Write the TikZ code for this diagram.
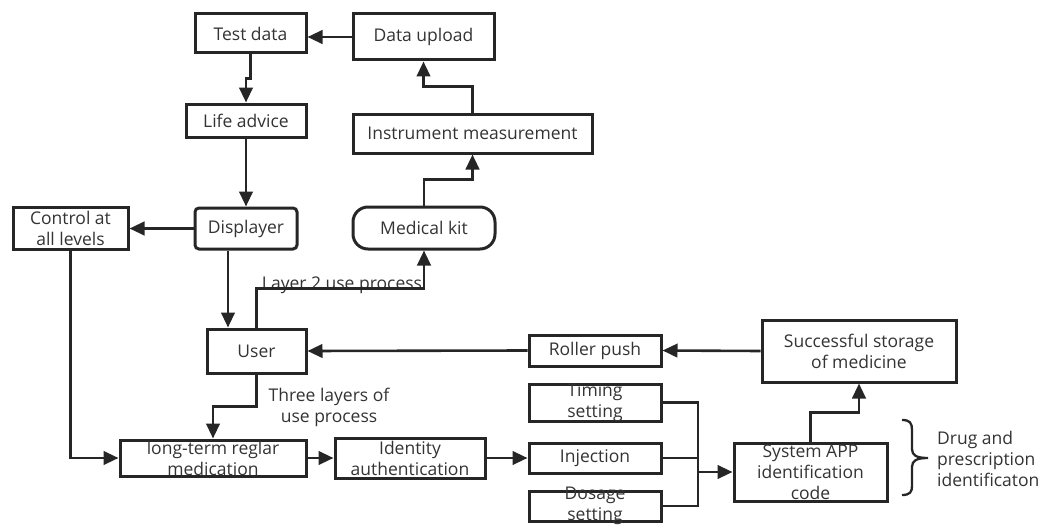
\documentclass[tikz,border=0pt]{standalone}
\usepackage{fontspec}
\setmainfont{Open Sans}
\usetikzlibrary{arrows.meta}
\definecolor{ln}{HTML}{262626}
\definecolor{tx}{HTML}{333333}
\tikzset{
  txt/.style={text=tx, font=\fontsize{17.5}{21}\selectfont, align=center, inner sep=0pt},
  box/.style={draw=ln, line width=3pt, inner sep=0pt, rectangle},
  conn/.style={draw=ln, line width=2.6pt, -{Triangle[length=15pt,width=13.5pt]}},
  wire/.style={draw=ln, line width=2.6pt},
}
\begin{document}
\begin{tikzpicture}[x=1pt,y=-1pt]
\useasboundingbox (0,0) rectangle (1044,527);
% boxes
\node[box, minimum width=111, minimum height=39, label={[txt]center:Test data}] (test) at (250.5,33.5) {};
\node[box, minimum width=141, minimum height=46, label={[txt]center:Data upload}] (data) at (423.5,37) {};
\node[box, minimum width=120, minimum height=33, label={[txt]center:Life advice}] (life) at (246,120.5) {};
\node[box, minimum width=239, minimum height=39, label={[txt]center:Instrument measurement}] (instr) at (472.5,133.5) {};
\node[box, minimum width=115, minimum height=42, label={[txt]center:{Control at\\all levels}}] (ctrl) at (70.5,228) {};
\node[box, rounded corners=4pt, minimum width=102, minimum height=41, label={[txt]center:Displayer}] (disp) at (246,228.5) {};
\node[box, rounded corners=15pt, minimum width=142, minimum height=42, label={[txt]center:Medical kit}] (med) at (424,228) {};
\node[box, minimum width=99, minimum height=44, label={[txt]center:User}] (user) at (256.5,351) {};
\node[box, minimum width=186, minimum height=36, label={[txt]center:{long-term reglar\\medication}}] (lt) at (213,458) {};
\node[box, minimum width=150, minimum height=40, label={[txt]center:{Identity\\authentication}}] (id) at (410,458) {};
\node[box, minimum width=132, minimum height=31, label={[txt]center:Roller push}] (roller) at (595,350.5) {};
\node[box, minimum width=194, minimum height=62, label={[txt]center:{Successful storage\\of medicine}}] (stor) at (859,351) {};
\node[box, minimum width=132, minimum height=37, label={[txt]center:{Timing\\setting}}] (tim) at (595,402.5) {};
\node[box, minimum width=132, minimum height=30, label={[txt]center:Injection}] (inj) at (595,458) {};
\node[box, minimum width=132, minimum height=30, label={[txt]center:{Dosage\\setting}}] (dos) at (595,506) {};
\node[box, minimum width=153, minimum height=58, label={[txt]center:{System APP\\identification\\code}}] (sys) at (810.5,472) {};
% free labels
\node[txt, anchor=base] (lay2) at (342,289) {Layer 2 use process};
\node[txt] (three) at (329,407) {Three layers of\\use process};
\node[txt, anchor=west, align=left] (drug) at (937,459) {Drug and\\prescription\\identificaton};
% connectors
\draw[conn] (data.west) -- (data.west -| test.east);
\draw[conn] (test.south) -- ++(0,24) -| (life.north);
\draw[conn] (life.south) -- (disp.north);
\draw[conn] (disp.west) -- (disp.west -| ctrl.east);
\draw[conn] (med.north) -- ++(0,-26) -| (instr.south);
\draw[conn] (instr.north) -- ++(0,-26) -| (data.south);
\draw[conn] (user.north) -- ++(0,-39) -| (med.south);
\coordinate (dd) at ([xshift=-18pt]disp.south);
\draw[conn] (dd) -- (dd |- user.north);
\draw[conn] (ctrl.south) |- (lt.west);
\draw[conn] (user.south) -- ++(0,32) -| (lt.north);
\draw[conn] (lt.east) -- (id.west);
\draw[conn] (id.east) -- (inj.west);
\draw[conn] (stor.west) -- (roller.east);
\draw[conn] (roller.west) -- (user.east);
\coordinate (bj) at (698,472);
\draw[wire] (tim.east) -| (bj);
\draw[wire] (dos.east) -| (bj);
\draw[wire] (inj.east) -- (inj.east -| bj);
\draw[conn] (bj) -- (sys.west);
\draw[conn] (sys.north) -- ++(0,-29) -| (stor.south);
% brace
\draw[draw=ln, line width=2.3pt] (902,420) .. controls (910,420) and (912,423) .. (912,430) -- (912,449) .. controls (912,455) and (916,458) .. (928,458) .. controls (916,458) and (912,461) .. (912,467) -- (912,486) .. controls (912,492) and (910,495) .. (902,495);
\end{tikzpicture}
\end{document}
